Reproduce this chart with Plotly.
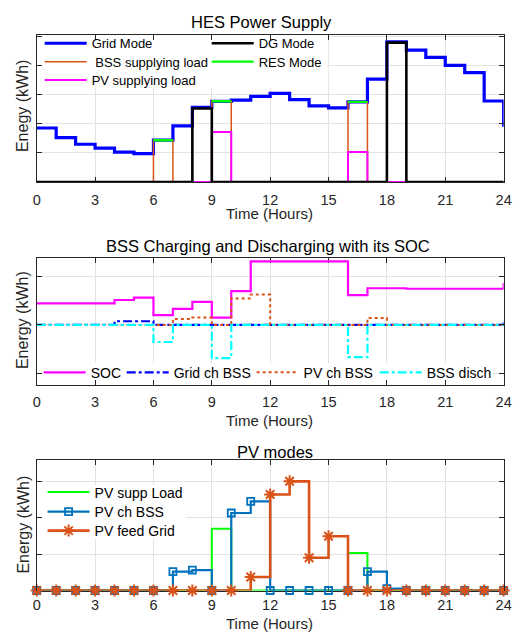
import plotly.graph_objects as go

W, H = 517, 633
FONT = "Liberation Sans, Arial, Helvetica, sans-serif"

hours = list(range(25))
xticks = list(range(0, 25, 3))

# ---------------- Plot 1: HES Power Supply ----------------
grid_mode = [1.86, 1.53, 1.30, 1.17, 1.03, 0.98, 1.44, 1.93, 2.57, 2.78, 2.82, 2.95, 3.05,
             2.84, 2.62, 2.55, 2.76, 3.54, 4.83, 4.54, 4.29, 4.02, 3.77, 2.79, 1.90]
dg_mode = [0, 0, 0, 0, 0, 0, 0, 0, 2.53, 0, 0, 0, 0, 0, 0, 0, 0, 0, 4.80, 0, 0, 0, 0, 0, 0]
bss_supply = [0, 0, 0, 0, 0, 0, 1.44, 0, 0, 2.78, 0, 0, 0, 0, 0, 0, 2.76, 0, 0, 0, 0, 0, 0, 0, 0]
res_mode = [0, 0, 0, 0, 0, 0, 1.44, 0, 0, 2.78, 0, 0, 0, 0, 0, 0, 2.76, 0, 0, 0, 0, 0, 0, 0, 0]
pv_supply = [0, 0, 0, 0, 0, 0, 0, 0, 0, 1.72, 0, 0, 0, 0, 0, 0, 1.03, 0, 0, 0, 0, 0, 0, 0, 0]

# ---------------- Plot 2: BSS charging / discharging ----------------
soc = [0.44, 0.44, 0.44, 0.44, 0.51, 0.56, 0.20, 0.33, 0.47, 0.15, 0.69, 1.30, 1.30,
       1.30, 1.30, 1.30, 0.61, 0.75, 0.75, 0.74, 0.74, 0.74, 0.74, 0.74, 0.86]
grid_ch_bss = [0, 0, 0, 0, 0.075, 0.075, 0, 0, 0, 0, 0, 0, 0, 0, 0, 0, 0, 0, 0, 0, 0, 0, 0, 0, 0.05]
pv_ch_bss_2 = [0, 0, 0, 0, 0, 0, 0, 0.12, 0.15, 0, 0.54, 0.62, 0, 0, 0, 0, 0, 0.14, 0, 0, 0, 0, 0, 0, 0]
bss_disch = [0, 0, 0, 0, 0, 0, -0.35, 0, 0, -0.68, 0, 0, 0, 0, 0, 0, -0.66, 0, 0, 0, 0, 0, 0, 0, 0]

# ---------------- Plot 3: PV modes ----------------
pv_supp_load = [0, 0, 0, 0, 0, 0, 0, 0, 0, 1.70, 0, 0, 0, 0, 0, 0, 1.03, 0, 0, 0, 0, 0, 0, 0, 0]
pv_ch_bss = [0, 0, 0, 0, 0, 0, 0, 0.52, 0.56, 0, 2.13, 2.45, 0, 0, 0, 0, 0, 0.52, 0.05, 0, 0, 0, 0, 0, 0]
pv_feed_grid = [0, 0, 0, 0, 0, 0, 0, 0, 0, 0, 0, 0.37, 2.64, 3.00, 0.90, 1.49, 0, 0, 0, 0, 0, 0, 0, 0, 0]

titles = ["HES Power Supply", "BSS Charging and Discharging with its SOC", "PV modes"]
xlabel = "Time (Hours)"
ylabels = ["Enegy (kWh)", "Energy (kWh)", "Energy (kWh)"]


def px(x):
    return x / W


def py(y):
    return 1 - y / H


X0, X1 = 33.5, 511.5
P1 = (34.5, 182.0)
P2 = (257.5, 384.5)
P3 = (459.5, 590.5)
R1 = [0, 5.08]
R2 = [-1.22, 1.38]
R3 = [0, 3.6]

fig = go.Figure()

# segments for RES mode (horizontal bars only)
res_x, res_y = [], []
for h, v in zip(hours, res_mode):
    if v:
        res_x += [h, h + 1, None]
        res_y += [v, v, None]

# Plot 1 traces (drawing order: Grid, BSS, PV, DG, RES)
fig.add_trace(go.Scatter(x=hours, y=grid_mode, mode="lines", line=dict(shape="hv", color="#0000FF", width=3.2),
                         name="Grid Mode", legend="legend", xaxis="x", yaxis="y"))
fig.add_trace(go.Scatter(x=hours, y=bss_supply, mode="lines", line=dict(shape="hv", color="#D95319", width=1.5),
                         name=" BSS supplying load", legend="legend2", xaxis="x", yaxis="y"))
fig.add_trace(go.Scatter(x=hours, y=pv_supply, mode="lines", line=dict(shape="hv", color="#FF00FF", width=2),
                         name="PV supplying load", legend="legend3", xaxis="x", yaxis="y"))
fig.add_trace(go.Scatter(x=hours, y=dg_mode, mode="lines", line=dict(shape="hv", color="#000000", width=2.6),
                         name="DG Mode", legend="legend4", xaxis="x", yaxis="y"))
fig.add_trace(go.Scatter(x=res_x, y=res_y, mode="lines", line=dict(color="#00FF00", width=2.4),
                         name="RES Mode", legend="legend5", xaxis="x", yaxis="y"))

# Plot 2 traces
fig.add_trace(go.Scatter(x=hours, y=soc, mode="lines", line=dict(shape="hv", color="#FF00FF", width=2.2),
                         name="SOC", legend="legend6", xaxis="x2", yaxis="y2"))
fig.add_trace(go.Scatter(x=hours, y=grid_ch_bss, mode="lines",
                         line=dict(shape="hv", color="#0000FF", width=2.2, dash="dashdot"),
                         name="Grid ch BSS", legend="legend7", xaxis="x2", yaxis="y2"))
fig.add_trace(go.Scatter(x=hours, y=pv_ch_bss_2, mode="lines",
                         line=dict(shape="hv", color="#D95319", width=2.0, dash="dot"),
                         name="PV ch BSS", legend="legend8", xaxis="x2", yaxis="y2"))
fig.add_trace(go.Scatter(x=hours, y=bss_disch, mode="lines",
                         line=dict(shape="hv", color="#00FFFF", width=2.2, dash="dashdot"),
                         name="BSS disch", legend="legend9", xaxis="x2", yaxis="y2"))

# Plot 3 traces
fig.add_trace(go.Scatter(x=hours, y=pv_supp_load, mode="lines", line=dict(shape="hv", color="#00FF00", width=2),
                         name="PV supp Load", legend="legend10", xaxis="x3", yaxis="y3", cliponaxis=False))
fig.add_trace(go.Scatter(x=hours, y=pv_ch_bss, mode="lines+markers", line=dict(shape="hv", color="#0072BD", width=2.2),
                         marker=dict(symbol="square-open", size=7, color="#0072BD", line=dict(width=1.8, color="#0072BD")),
                         name="PV ch BSS", legend="legend11", xaxis="x3", yaxis="y3", cliponaxis=False))
fig.add_trace(go.Scatter(x=hours, y=pv_feed_grid, mode="lines+markers", line=dict(shape="hv", color="#D95319", width=2.6),
                         marker=dict(symbol="asterisk-open", size=10, color="#D95319", line=dict(width=2, color="#D95319")),
                         name="PV feed Grid", legend="legend12", xaxis="x3", yaxis="y3", cliponaxis=False))

axis_common = dict(showline=True, linecolor="#262626", linewidth=1, mirror="allticks", ticks="inside",
                   ticklen=5, tickcolor="#262626", showgrid=True, gridcolor="#e2e2e2", gridwidth=1,
                   zeroline=False, tickfont=dict(family=FONT, size=14.5, color="#262626"))


def xax(anchor, standoff):
    d = dict(axis_common)
    d.update(domain=[px(X0), px(X1)], range=[0, 24], tickvals=xticks, anchor=anchor,
             ticklabelstandoff=standoff, layer="below traces", ticklabeloverflow="allow")
    return d


def yax(top, bottom, rng, tv, anchor):
    d = dict(axis_common)
    d.update(domain=[py(bottom), py(top)], range=rng, tickvals=tv, showticklabels=False, anchor=anchor)
    return d


# legend entries: (legend id, line start x px, row centre y px, font size)
legend_items = [
    ("legend", 42, 43.3, 13), ("legend2", 42, 61.7, 13), ("legend3", 42, 80, 13),
    ("legend4", 213, 43.3, 13), ("legend5", 213, 61.7, 13),
    ("legend6", 41, 372.7, 14), ("legend7", 126, 372.7, 14), ("legend8", 259, 372.7, 14),
    ("legend9", 385, 372.7, 14),
    ("legend10", 45, 492.5, 14), ("legend11", 45, 512, 14), ("legend12", 45, 531, 14),
]
legend_layout = {}
for lid, lx, ly, fs in legend_items:
    legend_layout[lid] = dict(x=px(lx - 5.5), y=py(ly), xanchor="left", yanchor="middle",
                              bgcolor="rgba(0,0,0,0)", borderwidth=0, itemwidth=42,
                              font=dict(family=FONT, size=fs, color="#000000"))

fig.update_layout(
    width=W, height=H, margin=dict(l=0, r=0, t=0, b=0),
    paper_bgcolor="white", plot_bgcolor="white",
    font=dict(family=FONT, color="#262626"),
    xaxis=xax("y", 5), yaxis=yax(P1[0], P1[1], R1, [0, 1, 2, 3, 4, 5], "x"),
    xaxis2=xax("y2", 4), yaxis2=yax(P2[0], P2[1], R2, [-1, 0, 1], "x2"),
    xaxis3=xax("y3", 1), yaxis3=yax(P3[0], P3[1], R3, [0, 1, 2, 3], "x3"),
    showlegend=True,
    **legend_layout,
)


def xdat(p):
    return (p - X0) / (X1 - X0) * 24


def ydat(p, P, R):
    top, bot = P
    return R[0] + (bot - p) / (bot - top) * (R[1] - R[0])


# white legend panels that hide the grid behind each legend block
panels = [("x", "y", 34, 332, 34.5, 88, P1, R1), ("x2", "y2", 38, 500, 363, 383, P2, R2),
          ("x3", "y3", 35, 186, 485, 539, P3, R3)]
shapes = []
for xr, yr, l, r, t, b, P, R in panels:
    shapes.append(dict(type="rect", xref=xr, yref=yr,
                       x0=xdat(l), x1=xdat(r), y0=ydat(b, P, R), y1=ydat(t, P, R),
                       fillcolor="white", line=dict(width=0), layer="between"))
fig.update_layout(shapes=shapes)

annotations = []
title_pos = [(264, 22.5), (270, 246), (277, 452)]
for t, (cx, cy) in zip(titles, title_pos):
    annotations.append(dict(text=t, x=px(cx), y=py(cy), xref="paper", yref="paper", showarrow=False,
                            xanchor="center", yanchor="middle", font=dict(family=FONT, size=16.5, color="#000000")))
xlab_pos = [(271.5, 213), (271.5, 420), (271.5, 623)]
for cx, cy in xlab_pos:
    annotations.append(dict(text=xlabel, x=px(cx), y=py(cy), xref="paper", yref="paper", showarrow=False,
                            xanchor="center", yanchor="middle", font=dict(family=FONT, size=15, color="#262626")))
ylab_pos = [(18.5, 106), (18.5, 320), (19, 525)]
for t, (cx, cy) in zip(ylabels, ylab_pos):
    annotations.append(dict(text=t, x=px(cx), y=py(cy), xref="paper", yref="paper", showarrow=False,
                            textangle=-90, xanchor="center", yanchor="middle",
                            font=dict(family=FONT, size=16, color="#262626")))
fig.update_layout(annotations=annotations)

fig.write_html("out.html")
